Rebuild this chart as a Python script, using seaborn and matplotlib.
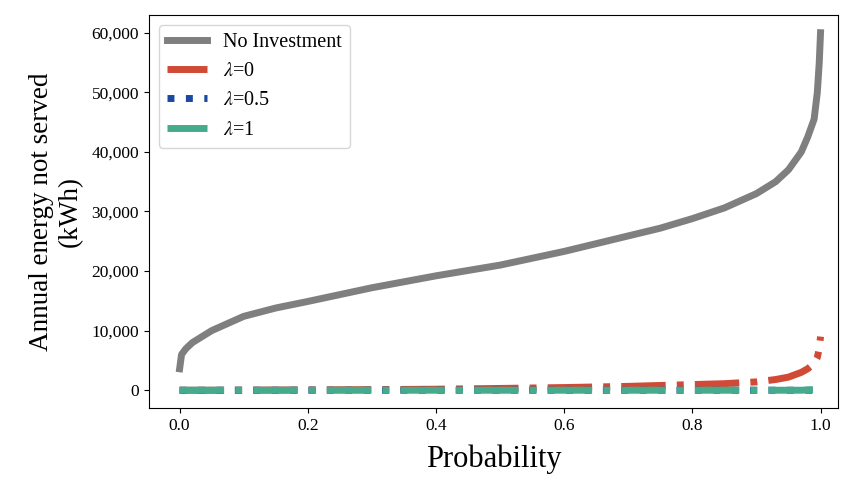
import seaborn as sns
import pandas as pd
import matplotlib.pyplot as plt

plt.rcParams["font.family"] = ["Liberation Serif", "DejaVu Serif"]
plt.rcParams["mathtext.fontset"] = "stix"

# probability grid
prob = [0.0, 0.003, 0.01, 0.02, 0.05, 0.1, 0.15, 0.2, 0.3, 0.4, 0.5, 0.6, 0.7,
        0.75, 0.8, 0.85, 0.9, 0.93, 0.95, 0.97, 0.98, 0.99, 0.995, 0.998, 1.0]

no_investment = [3600, 6000, 7000, 8000, 10000, 12400, 13800, 14900, 17200, 19200,
                 21000, 23300, 25900, 27200, 28800, 30600, 33000, 35000, 37000,
                 40000, 42500, 45500, 50000, 55000, 60000]
lam_0 = [0, 0, 0, 0, 0, 20, 40, 60, 100, 170, 300, 450, 650, 800, 950, 1100,
         1400, 1800, 2200, 3000, 3600, 4500, 5500, 7000, 9000]
lam_05 = [0, 0, 0, 0, 0, 0, 0, 0, 0, 0, 0, 0, 0, 0, 0, 0, 0, 0, 0, 0, 0, 0, 50,
          100, 150]
lam_1 = [0, 0, 0, 0, 0, 0, 0, 0, 0, 0, 0, 0, 0, 0, 0, 0, 0, 0, 0, 0, 50, 100,
         200, 400, 600]

df = pd.DataFrame({"prob": prob, "none": no_investment, "l0": lam_0,
                   "l05": lam_05, "l1": lam_1})

fig, ax = plt.subplots(figsize=(8.41, 4.79), dpi=100)
sns.lineplot(data=df, x="prob", y="none", color="#7f7f7f", lw=5,
             label="No Investment", ax=ax)
sns.lineplot(data=df, x="prob", y="l0", color="#d04a35", lw=5,
             linestyle="-.", label=r"$\lambda$=0", ax=ax)
sns.lineplot(data=df, x="prob", y="l05", color="#1a4aa0", lw=5,
             linestyle=":", label=r"$\lambda$=0.5", ax=ax)
sns.lineplot(data=df, x="prob", y="l1", color="#45ab8c", lw=5,
             linestyle="-.", label=r"$\lambda$=1", ax=ax)

ax.set_xlim(-0.048, 1.028)
ax.yaxis.set_major_formatter(plt.FuncFormatter(lambda v, p: f"{int(v):,}"))
ax.tick_params(labelsize=12.5)
ax.set_xlabel("Probability", fontsize=22, labelpad=8)
ax.set_ylabel("Annual energy not served\n(kWh)", fontsize=19.5, labelpad=6)
ax.legend(loc="upper left", fontsize=14.5)

plt.subplots_adjust(left=0.177, right=0.997, top=0.969, bottom=0.148)
plt.savefig("out.png", dpi=100)
